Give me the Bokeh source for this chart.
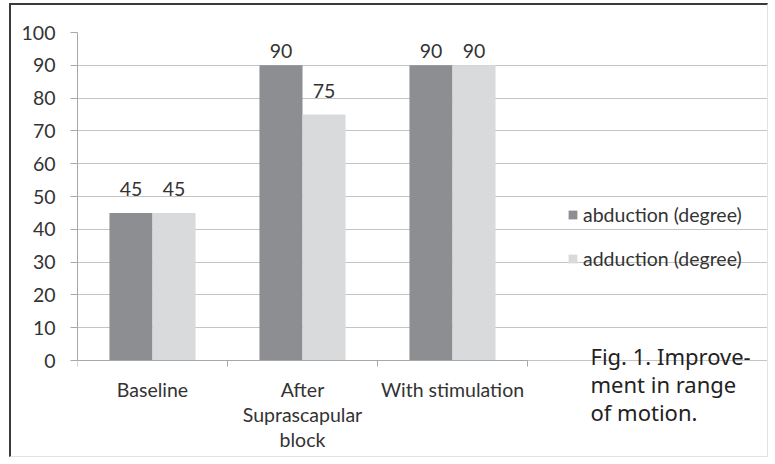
from bokeh.plotting import figure
from bokeh.models import (Range1d, FixedTicker, Legend, LegendItem, Label,
                          ColumnDataSource)
from bokeh.core.properties import value
from bokeh.embed import file_html
from bokeh.resources import INLINE
import numpy as np

categories = ["Baseline", "After\nSuprascapular\nblock", "With stimulation"]
abduction = [45, 90, 90]
adduction = [45, 75, 90]
series_names = ["abduction (degree)", "adduction (degree)"]
y_ticks = [0, 10, 20, 30, 40, 50, 60, 70, 80, 90, 100]
caption = "Fig. 1. Improve-\nment  in  range\nof motion."

dark = "#8d8e92"
light = "#d9dadc"
grid = "#c4c4c4"
axis_col = "#a8a8a8"
txt = "#333333"
AXFONT = "Lato"
FS = "19.5px"

# layout (pixels)
W, H = 759, 454
left_b, top_b = 66, 27
plot_w = 450          # width of the bar area
plot_h = 328          # height of the 0..100 band
frame_w = W - left_b
frame_h = H - top_b
x_end = len(categories) * frame_w / plot_w
y_start = 100 - 100 * frame_h / plot_h

p = figure(width=W, height=H, output_backend="svg", toolbar_location=None,
           x_range=Range1d(0, x_end), y_range=Range1d(y_start, 100),
           min_border_left=left_b, min_border_right=0, min_border_top=top_b,
           min_border_bottom=0, background_fill_color="white",
           border_fill_color="white",
           styles={"margin-left": "9px", "margin-top": "3px",
                   "border-left": "2px solid #3a3a3a", "border-top": "2px solid #3a3a3a",
                   "border-right": "1px solid #e2e2e2", "border-bottom": "1px solid #e2e2e2"})
p.outline_line_color = None

idx = np.arange(len(categories))
bw = 0.287
src = ColumnDataSource(dict(x1=idx + 0.5 - bw / 2, x2=idx + 0.5 + bw / 2,
                            a=abduction, b=adduction,
                            ya=np.minimum(np.array(abduction) + 7.3, 94.5),
                            yb=np.minimum(np.array(adduction) + 7.3, 94.5),
                            ta=[str(v) for v in abduction], tb=[str(v) for v in adduction]))

r1 = p.vbar(x="x1", top="a", bottom=0, width=bw, source=src, fill_color=dark, line_color=None)
r2 = p.vbar(x="x2", top="b", bottom=0, width=bw, source=src, fill_color=light, line_color=None)

for xc, yc, tc in (("x1", "ya", "ta"), ("x2", "yb", "tb")):
    p.text(x=xc, y=yc, text=tc, source=src, text_align="center", text_baseline="alphabetic",
           text_font=value(AXFONT), text_font_size=FS, text_color=txt)

# y axis
p.yaxis.ticker = FixedTicker(ticks=y_ticks)
p.yaxis.bounds = (0, 100)
p.yaxis.axis_line_color = axis_col
p.yaxis.major_tick_line_color = axis_col
p.yaxis.major_tick_out = 7
p.yaxis.major_tick_in = 0
p.yaxis.minor_tick_line_color = None
p.yaxis.major_label_text_font = AXFONT
p.yaxis.major_label_text_font_size = FS
p.yaxis.major_label_text_color = txt
p.yaxis.major_label_standoff = 15

# x axis drawn at y = 0
centers = [i + 0.5 for i in range(len(categories))]
p.xaxis.fixed_location = 0
p.xaxis.ticker = FixedTicker(ticks=centers, minor_ticks=list(range(len(categories) + 1)))
p.xaxis.major_label_overrides = {c: lab for c, lab in zip(centers, categories)}
p.xaxis.bounds = (0, len(categories))
p.xaxis.major_tick_line_color = None
p.xaxis.major_tick_out = 0
p.xaxis.major_tick_in = 0
p.xaxis.minor_tick_line_color = axis_col
p.xaxis.minor_tick_out = 6
p.xaxis.minor_tick_in = 0
p.xaxis.axis_line_color = axis_col
p.xaxis.major_label_text_font = AXFONT
p.xaxis.major_label_text_font_size = FS
p.xaxis.major_label_text_color = txt
p.xaxis.major_label_text_line_height = 1.09
p.xaxis.major_label_standoff = 11

p.xgrid.grid_line_color = None
p.ygrid.grid_line_color = grid
p.ygrid.ticker = FixedTicker(ticks=y_ticks)
p.ygrid.bounds = (0, len(categories))

fb = frame_h - plot_h   # frame-bottom to y=0 distance (px)

legend = Legend(items=[LegendItem(label=series_names[0], renderers=[r1]),
                       LegendItem(label=series_names[1], renderers=[r2])],
                location=(490, fb + 90), padding=0, margin=0, spacing=20,
                label_height=24, glyph_width=11, glyph_height=11, label_standoff=5,
                border_line_color=None, background_fill_alpha=0,
                label_text_font=AXFONT, label_text_font_size=FS,
                label_text_color=txt)
p.add_layout(legend, "center")

# screen units are measured from the frame's bottom-left corner
cap = Label(x=513, y=fb + 20, x_units="screen", y_units="screen", text=caption,
            text_font="Noto Sans", text_font_size="22px", text_color="#222222",
            text_line_height=0.94, text_baseline="top")
p.add_layout(cap)

open("out.html", "w").write(file_html(p, INLINE))
